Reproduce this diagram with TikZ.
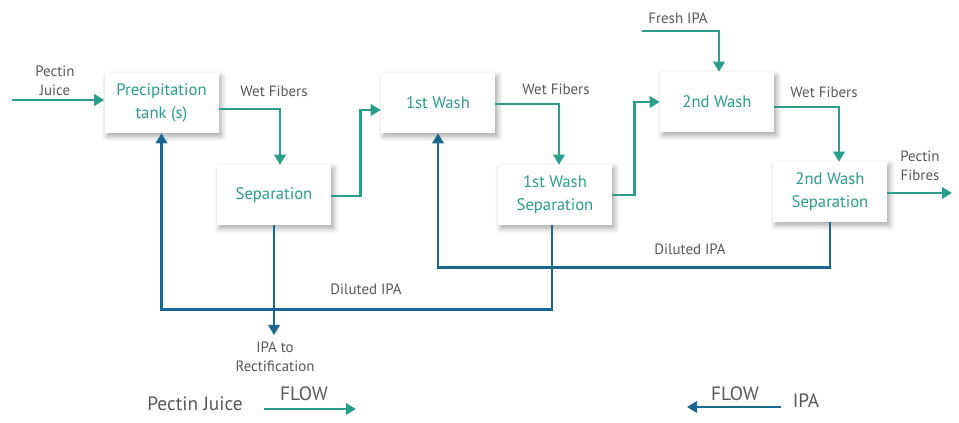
\documentclass[tikz,border=0pt]{standalone}
\usepackage{fontspec}
\setmainfont{PT Sans}
\usetikzlibrary{arrows.meta,calc,shadows.blur}
\definecolor{tealc}{RGB}{42,157,139}
\definecolor{bluec}{RGB}{26,104,145}
\definecolor{grayc}{RGB}{88,88,88}
\tikzset{
  procbox/.style={fill=white, minimum width=85.5pt, minimum height=45pt, align=center, text=tealc,
    font=\fontsize{12.5}{17.5}\selectfont,
    blur shadow={shadow xshift=2pt, shadow yshift=-2.5pt, shadow blur radius=4pt, shadow opacity=35}},
  lbl/.style={text=grayc, align=center, font=\fontsize{11.2}{14}\selectfont},
  leg/.style={text=grayc, font=\fontsize{14.5}{17}\selectfont},
  tl/.style={draw=tealc, line width=1.9pt, -{Triangle[length=7.5pt,width=8.5pt]}},
  bl/.style={draw=bluec, line width=1.9pt, -{Triangle[length=7.5pt,width=8.5pt]}},
}
\begin{document}
\begin{tikzpicture}[x=0.75pt,y=-0.75pt]
\useasboundingbox (0,0) rectangle (959,423);
% boxes
\node[procbox] (prec) at (161.5,103) {Precipitation\\tank (s)};
\node[procbox] (sep) at (274,195) {Separation};
\node[procbox] (w1) at (438,103) {1st Wash};
\node[procbox] (s1) at (555,195) {1st Wash\\Separation};
\node[procbox] (w2) at (717,102) {2nd Wash};
\node[procbox] (s2) at (830,192) {2nd Wash\\Separation};
% free ends
\coordinate (pjin) at (12,100);
\coordinate (fresh) at (642,31);
\coordinate (fout) at (952,193);
\coordinate (rect) at (274,335);
% teal flows
\draw[tl] (pjin) -- (pjin -| prec.west);
\draw[tl] ($(prec.east)+(0,6)$) -| ($(sep.north)+(6,0)$);
\draw[tl] ($(sep.east)+(0,1)$) -- ++(29,0) |- ($(w1.west)+(0,7)$);
\draw[tl] ($(w1.east)+(0,1)$) -| ($(s1.north)+(4,0)$);
\draw[tl] (s1.east) -- ++(22,0) |- (w2.west);
\draw[tl] (fresh) -| ($(w2.north)+(2,0)$);
\draw[tl] ($(w2.east)+(0,5)$) -| ($(s2.north)+(9,0)$);
\draw[tl] ($(s2.east)+(0,1)$) -- (fout);
% blue flows
\draw[bl] (sep.south) -- (rect);
\draw[bl] ($(s1.south)+(-3,0)$) -- ++(0,84) -| (prec.south);
\draw[bl] (s2.south) -- ++(0,45) -| (w1.south);
% labels
\node[lbl] (lpj) at (55,81) {Pectin\\Juice};
\node[lbl] (lwf1) at (274,91) {Wet Fibers};
\node[lbl] (lwf2) at (556,89) {Wet Fibers};
\node[lbl] (lwf3) at (824,92) {Wet Fibers};
\node[lbl] (lfresh) at (678,18) {Fresh IPA};
\node[lbl] (lpf) at (920,166) {Pectin\\Fibres};
\node[lbl] (ldil1) at (366,289) {Diluted IPA};
\node[lbl] (ldil2) at (690,249) {Diluted IPA};
\node[lbl] (lrect) at (275,357) {IPA to\\Rectification};
% legend
\node[leg] (legpj) at (195,404) {Pectin Juice};
\node[leg] (legf1) at (304,394) {FLOW};
\coordinate (la1) at (264,409);
\coordinate (la2) at (356,409);
\draw[tl] (la1) -- (la2);
\node[leg] (legipa) at (806,401) {IPA};
\node[leg] (legf2) at (735,394) {FLOW};
\coordinate (lb1) at (781,407);
\coordinate (lb2) at (687,407);
\draw[bl] (lb1) -- (lb2);
\end{tikzpicture}
\end{document}
